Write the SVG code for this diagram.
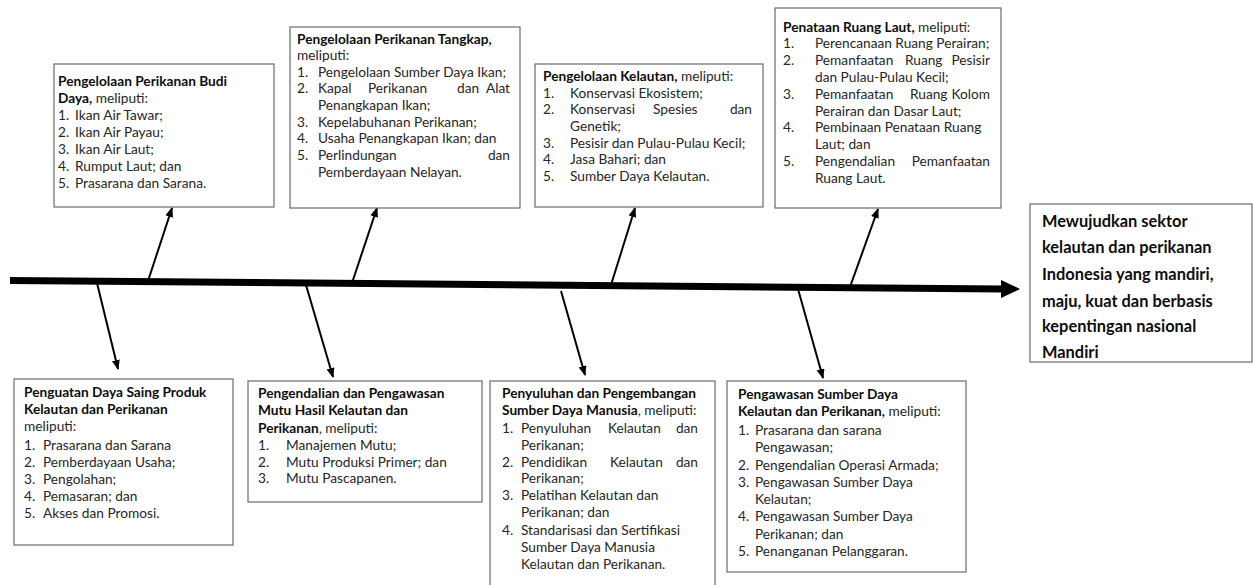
<svg xmlns="http://www.w3.org/2000/svg" width="1253" height="585" viewBox="0 0 1253 585">
<defs>
<style>
.box{fill:#fff;stroke:#6b6b6b;stroke-width:1.2}
text{font-family:Lato,"Open Sans","Liberation Sans",sans-serif;font-size:13.7px;fill:#262626}
.b{font-weight:bold;fill:#0d0d0d}
.big{font-family:Lato,"Open Sans","Liberation Sans",sans-serif;font-size:16.4px;font-weight:bold;fill:#0d0d0d}
.br{stroke:#000;stroke-width:2;fill:none;marker-end:url(#ah)}
</style>
<marker id="ah" markerUnits="userSpaceOnUse" markerWidth="11" markerHeight="9" refX="9" refY="4" orient="auto">
<path d="M0,0 L10,4 L0,8 z" fill="#000"/>
</marker>
</defs>
<rect width="1253" height="585" fill="#fff"/>

<g id="connectors">
<polygon points="10,277 1002,285.5 1002,292.5 10,284" fill="#000"/>
<polygon points="1001,280 1020,289 1001,298" fill="#000"/>
<line class="br" x1="148" y1="281" x2="172" y2="208"/>
<line class="br" x1="352" y1="283" x2="377" y2="208"/>
<line class="br" x1="611" y1="285" x2="635" y2="208"/>
<line class="br" x1="850" y1="287" x2="878" y2="209"/>
<line class="br" x1="97" y1="283" x2="118" y2="369"/>
<line class="br" x1="306" y1="285" x2="333" y2="377"/>
<line class="br" x1="561" y1="291" x2="585" y2="375"/>
<line class="br" x1="798" y1="289" x2="823" y2="378"/>
</g>

<g id="budidaya">
<rect class="box" x="54" y="64" width="220" height="143"/>
<text x="58" y="86" class="b">Pengelolaan Perikanan Budi</text>
<text x="58" y="103"><tspan class="b">Daya,</tspan> meliputi:</text>
<text x="58" y="120">1.</text><text x="75" y="120">Ikan Air Tawar;</text>
<text x="58" y="137">2.</text><text x="75" y="137">Ikan Air Payau;</text>
<text x="58" y="154">3.</text><text x="75" y="154">Ikan Air Laut;</text>
<text x="58" y="171">4.</text><text x="75" y="171">Rumput Laut; dan</text>
<text x="58" y="188">5.</text><text x="75" y="188">Prasarana dan Sarana.</text>
</g>

<g id="tangkap">
<rect class="box" x="290" y="27" width="230" height="181"/>
<text x="297" y="44" class="b">Pengelolaan Perikanan Tangkap,</text>
<text x="297" y="60">meliputi:</text>
<text x="297" y="77">1.</text><text x="318" y="77">Pengelolaan Sumber Daya Ikan;</text>
<text x="297" y="93">2.</text><text x="318" y="93">Kapal</text><text x="368" y="93">Perikanan</text><text x="457" y="93">dan</text><text x="510" y="93" text-anchor="end">Alat</text>
<text x="318" y="110">Penangkapan Ikan;</text>
<text x="297" y="127">3.</text><text x="318" y="127">Kepelabuhanan Perikanan;</text>
<text x="297" y="143">4.</text><text x="318" y="143">Usaha Penangkapan Ikan; dan</text>
<text x="297" y="160">5.</text><text x="318" y="160">Perlindungan</text><text x="510" y="160" text-anchor="end">dan</text>
<text x="318" y="177">Pemberdayaan Nelayan.</text>
</g>

<g id="kelautan">
<rect class="box" x="535" y="64" width="228" height="143"/>
<text x="543" y="81"><tspan class="b">Pengelolaan Kelautan,</tspan> meliputi:</text>
<text x="543" y="98">1.</text><text x="570" y="98">Konservasi Ekosistem;</text>
<text x="543" y="114">2.</text><text x="570" y="114">Konservasi</text><text x="653" y="114">Spesies</text><text x="752" y="114" text-anchor="end">dan</text>
<text x="570" y="131">Genetik;</text>
<text x="543" y="148">3.</text><text x="570" y="148">Pesisir dan Pulau-Pulau Kecil;</text>
<text x="543" y="164">4.</text><text x="570" y="164">Jasa Bahari; dan</text>
<text x="543" y="181">5.</text><text x="570" y="181">Sumber Daya Kelautan.</text>
</g>

<g id="ruanglaut">
<rect class="box" x="775" y="8" width="226" height="200"/>
<text x="783" y="32"><tspan class="b">Penataan Ruang Laut,</tspan> meliputi:</text>
<text x="783" y="48">1.</text><text x="815" y="48">Perencanaan Ruang Perairan;</text>
<text x="783" y="65">2.</text><text x="815" y="65">Pemanfaatan</text><text x="905" y="65">Ruang</text><text x="990" y="65" text-anchor="end">Pesisir</text>
<text x="815" y="82">dan Pulau-Pulau Kecil;</text>
<text x="783" y="99">3.</text><text x="815" y="99">Pemanfaatan</text><text x="910" y="99">Ruang</text><text x="990" y="99" text-anchor="end">Kolom</text>
<text x="815" y="116">Perairan dan Dasar Laut;</text>
<text x="783" y="132">4.</text><text x="815" y="132">Pembinaan Penataan Ruang</text>
<text x="815" y="149">Laut; dan</text>
<text x="783" y="166">5.</text><text x="815" y="166">Pengendalian</text><text x="990" y="166" text-anchor="end">Pemanfaatan</text>
<text x="815" y="183">Ruang Laut.</text>
</g>

<g id="tujuan">
<rect class="box" x="1030" y="204" width="222" height="158"/>
<text class="big" x="1042" y="227">Mewujudkan sektor</text>
<text class="big" x="1042" y="253">kelautan dan perikanan</text>
<text class="big" x="1042" y="280">Indonesia yang mandiri,</text>
<text class="big" x="1042" y="307">maju, kuat dan berbasis</text>
<text class="big" x="1042" y="332">kepentingan nasional</text>
<text class="big" x="1042" y="358">Mandiri</text>
</g>

<g id="dayasaing">
<rect class="box" x="14" y="379" width="219" height="166"/>
<text x="24" y="397" class="b">Penguatan Daya Saing Produk</text>
<text x="24" y="414" class="b">Kelautan dan Perikanan</text>
<text x="24" y="431">meliputi:</text>
<text x="24" y="450">1.</text><text x="43" y="450">Prasarana dan Sarana</text>
<text x="24" y="467">2.</text><text x="43" y="467">Pemberdayaan Usaha;</text>
<text x="24" y="484">3.</text><text x="43" y="484">Pengolahan;</text>
<text x="24" y="501">4.</text><text x="43" y="501">Pemasaran; dan</text>
<text x="24" y="518">5.</text><text x="43" y="518">Akses dan Promosi.</text>
</g>

<g id="mutu">
<rect class="box" x="248" y="381" width="234" height="121"/>
<text x="258" y="398" class="b">Pengendalian dan Pengawasan</text>
<text x="258" y="415" class="b">Mutu Hasil Kelautan dan</text>
<text x="258" y="433"><tspan class="b">Perikanan</tspan>, meliputi:</text>
<text x="258" y="450">1.</text><text x="286" y="450">Manajemen Mutu;</text>
<text x="258" y="467">2.</text><text x="286" y="467">Mutu Produksi Primer; dan</text>
<text x="258" y="483">3.</text><text x="286" y="483">Mutu Pascapanen.</text>
</g>

<g id="penyuluhan">
<rect class="box" x="490" y="381" width="225" height="205"/>
<text x="502" y="398" class="b">Penyuluhan dan Pengembangan</text>
<text x="502" y="415"><tspan class="b">Sumber Daya Manusia</tspan>, meliputi:</text>
<text x="502" y="433">1.</text><text x="521" y="433">Penyuluhan</text><text x="608" y="433">Kelautan</text><text x="698" y="433" text-anchor="end">dan</text>
<text x="521" y="450">Perikanan;</text>
<text x="502" y="467">2.</text><text x="521" y="467">Pendidikan</text><text x="610" y="467">Kelautan</text><text x="698" y="467" text-anchor="end">dan</text>
<text x="521" y="483">Perikanan;</text>
<text x="502" y="500">3.</text><text x="521" y="500">Pelatihan Kelautan dan</text>
<text x="521" y="517">Perikanan; dan</text>
<text x="502" y="535">4.</text><text x="521" y="535">Standarisasi dan Sertifikasi</text>
<text x="521" y="552">Sumber Daya Manusia</text>
<text x="521" y="569">Kelautan dan Perikanan.</text>
</g>

<g id="pengawasan">
<rect class="box" x="727" y="381" width="239" height="191"/>
<text x="738" y="399" class="b">Pengawasan Sumber Daya</text>
<text x="738" y="416"><tspan class="b">Kelautan dan Perikanan,</tspan> meliputi:</text>
<text x="738" y="435">1.</text><text x="755" y="435">Prasarana dan sarana</text>
<text x="755" y="452">Pengawasan;</text>
<text x="738" y="470">2.</text><text x="755" y="470">Pengendalian Operasi Armada;</text>
<text x="738" y="487">3.</text><text x="755" y="487">Pengawasan Sumber Daya</text>
<text x="755" y="504">Kelautan;</text>
<text x="738" y="521">4.</text><text x="755" y="521">Pengawasan Sumber Daya</text>
<text x="755" y="539">Perikanan; dan</text>
<text x="738" y="556">5.</text><text x="755" y="556">Penanganan Pelanggaran.</text>
</g>
</svg>
